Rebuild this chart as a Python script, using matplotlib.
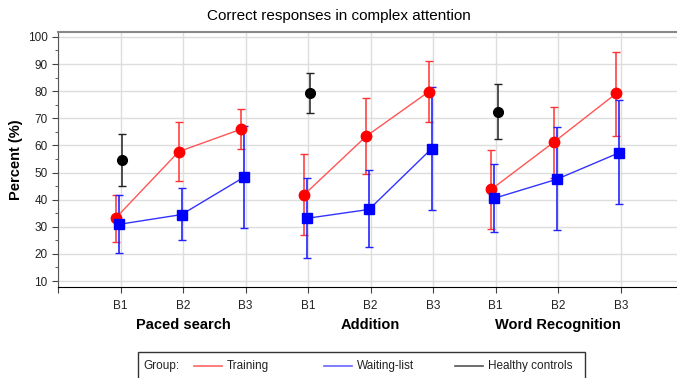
import matplotlib.pyplot as plt
from matplotlib.lines import Line2D
from matplotlib.patches import Rectangle

tasks = ["Paced search", "Addition", "Word Recognition"]
blocks = ["B1", "B2", "B3"]

# values per task, B1..B3 (percent correct)
training = [33.4, 57.7, 66.0, 41.7, 63.4, 79.8, 43.8, 61.2, 79.2]
training_lo = [24.3, 46.9, 58.6, 27.0, 49.5, 68.7, 29.2, 48.1, 63.6]
training_hi = [41.8, 68.8, 73.4, 56.8, 77.5, 91.1, 58.3, 74.3, 94.6]

waiting = [30.9, 34.5, 48.3, 33.1, 36.4, 58.8, 40.5, 47.5, 57.3]
waiting_lo = [20.2, 25.0, 29.7, 18.4, 22.5, 36.3, 28.2, 28.9, 38.4]
waiting_hi = [41.8, 44.3, 67.3, 48.1, 50.8, 81.4, 53.0, 66.9, 76.9]

# healthy controls only measured at B1
controls = [54.6, 79.3, 72.4]
controls_lo = [45.2, 72.1, 62.4]
controls_hi = [64.2, 86.8, 82.8]

group_labels = ["Training", "Waiting-list", "Healthy controls"]
group_colors = ["#ff6666", "#6666ff", "#555555"]

plt.rcParams["font.family"] = ["Liberation Sans", "DejaVu Sans"]

fig = plt.figure(figsize=(6.77, 3.78), dpi=100)
ax = fig.add_axes([0.0857, 0.2407, 0.9143, 0.6746])

for t in range(3):
    xs = [t * 3 + b + 1 for b in range(3)]
    sl = slice(t * 3, t * 3 + 3)

    # training
    x_tr = [x - 0.07 for x in xs]
    y = training[sl]
    err = [[v - lo for v, lo in zip(y, training_lo[sl])],
           [hi - v for v, hi in zip(y, training_hi[sl])]]
    ax.plot(x_tr, y, color="#ff5555", lw=1, zorder=3)
    ax.errorbar(x_tr, y, yerr=err, fmt="o", color="#ff0000", ms=7.5,
                ecolor="#ff3333", elinewidth=1.1, capsize=3, capthick=1, zorder=4)

    # waiting list
    x_wl = [x - 0.025 for x in xs]
    y = waiting[sl]
    err = [[v - lo for v, lo in zip(y, waiting_lo[sl])],
           [hi - v for v, hi in zip(y, waiting_hi[sl])]]
    ax.plot(x_wl, y, color="#3333ff", lw=1, zorder=3)
    ax.errorbar(x_wl, y, yerr=err, fmt="s", color="#0000ff", ms=7.8,
                ecolor="#2222ff", elinewidth=1.2, capsize=3, capthick=1, zorder=4)

    # healthy controls
    yc = controls[t]
    ax.errorbar([xs[0] + 0.03], [yc],
                yerr=[[yc - controls_lo[t]], [controls_hi[t] - yc]],
                fmt="o", color="black", ms=7, ecolor="#222222",
                elinewidth=1.1, capsize=3, capthick=1, zorder=4)

ax.set_xlim(0, 9.9)
ax.set_ylim(7.8, 101.8)
ax.set_xticks([0] + list(range(1, 10)))
ax.set_xticklabels([""] + blocks * 3, fontsize=8.5, color="#222222")
ax.set_yticks(range(10, 101, 10))
ax.set_yticks(range(15, 100, 10), minor=True)
ax.tick_params(axis="y", labelsize=8.5, labelcolor="#222222", length=4, color="#444444")
ax.tick_params(axis="y", which="minor", length=2, color="#444444")
ax.tick_params(axis="x", length=4, color="#444444", pad=5)

ax.grid(True, color="#dddddd", lw=1)
ax.set_axisbelow(True)
ax.spines["right"].set_visible(False)
ax.spines["top"].set_color("#888888")
ax.spines["top"].set_linewidth(1.5)
ax.spines["left"].set_color("#555555")
ax.spines["bottom"].set_color("black")

for t, name in enumerate(tasks):
    ax.text(t * 3 + 2, -0.15, name, transform=ax.get_xaxis_transform(),
            ha="center", va="center", fontsize=10.5, fontweight="bold")

ax.set_ylabel("Percent (%)", fontsize=10.5, fontweight="bold")
ax.yaxis.set_label_coords(-0.056, 0.5)
fig.suptitle("Correct responses in complex attention", fontsize=11, y=0.975)

# legend box at the bottom, partially cut off like the original
fig.add_artist(Rectangle((138 / 677, -0.05), (585 - 138) / 677, (378 - 352) / 378 + 0.05,
                         transform=fig.transFigure, fill=False, ec="#333333", lw=1))
y_leg = 1 - 366 / 378
fig.text(143 / 677, y_leg, "Group:", fontsize=8.5, va="center", color="#222222")
for start, label, color in zip([194, 324, 455], group_labels, group_colors):
    fig.add_artist(Line2D([start / 677, (start + 28) / 677], [y_leg, y_leg],
                          transform=fig.transFigure, color=color, lw=1.2))
    fig.text((start + 33) / 677, y_leg, label, fontsize=8.5, va="center", color="#222222")

fig.savefig("out.png", dpi=100)
